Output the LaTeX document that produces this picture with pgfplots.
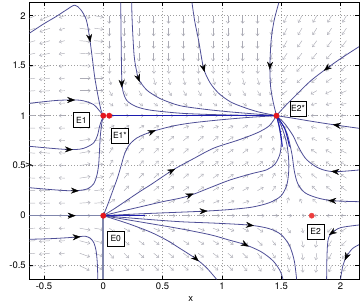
\documentclass[border=0pt]{standalone}
\usepackage{fontspec}
\setmainfont{TeX Gyre Heros}
\usepackage{pgfplots}
\usepackage{pgfplotstable}
\pgfplotsset{compat=1.18}
\usetikzlibrary{arrows.meta}

\definecolor{traj}{RGB}{78,78,150}
\definecolor{trajdark}{RGB}{28,28,175}
\definecolor{trajpale}{RGB}{128,134,172}
\definecolor{field}{RGB}{172,172,182}
\definecolor{eqred}{RGB}{228,22,30}
\definecolor{eqlight}{RGB}{236,62,62}

% direction field: grid point, screen angle (deg), arrow length (pt)
\pgfplotstableread[row sep=\\]{
x y a l\\
-0.575 2 205 11\\ -0.45 2 205 11\\ -0.325 2 200 6\\ -0.2 2 350 11\\ -0.075 2 350 9\\ 0.05 2 270 8\\ 0.175 2 270 8\\ 0.3 2 270 8\\ 0.425 2 270 8\\ 0.55 2 270 8\\ 0.675 2 270 8\\ 0.8 2 270 8\\ 0.925 2 270 8\\ 1.05 2 270 8\\ 1.175 2 270 8\\ 1.3 2 270 8\\ 1.425 2 260 7\\ 1.55 2 245 8\\ 1.675 2 242 8\\ 1.8 2 240 8\\ 1.925 2 240 8\\ 2.05 2 240 8\\
-0.575 1.875 200 11\\ -0.45 1.875 200 11\\ -0.325 1.875 198 6\\ -0.2 1.875 352 11\\ -0.075 1.875 352 9\\ 0.05 1.875 270 8\\ 0.175 1.875 270 8\\ 0.3 1.875 270 8\\ 0.425 1.875 270 8\\ 0.55 1.875 270 8\\ 0.675 1.875 270 8\\ 0.8 1.875 270 8\\ 0.925 1.875 270 8\\ 1.05 1.875 270 8\\ 1.175 1.875 270 8\\ 1.3 1.875 270 8\\ 1.425 1.875 260 7\\ 1.55 1.875 243 8\\ 1.675 1.875 240 8\\ 1.8 1.875 238 8\\ 1.925 1.875 237 8\\ 2.05 1.875 236 8\\
-0.575 1.75 197 11\\ -0.45 1.75 197 11\\ -0.325 1.75 195 6\\ -0.2 1.75 355 11\\ -0.075 1.75 355 9\\ 0.05 1.75 270 8\\ 0.175 1.75 270 8\\ 0.3 1.75 270 8\\ 0.425 1.75 270 8\\ 0.55 1.75 270 8\\ 0.675 1.75 270 8\\ 0.8 1.75 270 8\\ 0.925 1.75 270 8\\ 1.05 1.75 270 8\\ 1.175 1.75 270 8\\ 1.3 1.75 270 8\\ 1.425 1.75 258 7\\ 1.55 1.75 240 8\\ 1.675 1.75 236 8\\ 1.8 1.75 234 8\\ 1.925 1.75 233 8\\ 2.05 1.75 232 8\\
-0.575 1.625 193 11\\ -0.45 1.625 193 11\\ -0.325 1.625 190 6\\ -0.2 1.625 357 11\\ -0.075 1.625 357 9\\ 0.05 1.625 270 8\\ 0.175 1.625 270 8\\ 0.3 1.625 270 8\\ 0.425 1.625 270 8\\ 0.55 1.625 270 8\\ 0.675 1.625 270 8\\ 0.8 1.625 270 8\\ 0.925 1.625 270 8\\ 1.05 1.625 270 8\\ 1.175 1.625 270 8\\ 1.3 1.625 270 8\\ 1.425 1.625 255 7\\ 1.55 1.625 236 8\\ 1.675 1.625 232 8\\ 1.8 1.625 230 8\\ 1.925 1.625 229 8\\ 2.05 1.625 228 8\\
-0.575 1.5 190 11\\ -0.45 1.5 190 11\\ -0.325 1.5 188 6\\ -0.2 1.5 358 11\\ -0.075 1.5 358 9\\ 0.05 1.5 272 8\\ 0.175 1.5 272 8\\ 0.3 1.5 272 8\\ 0.425 1.5 272 8\\ 0.55 1.5 272 8\\ 0.675 1.5 272 8\\ 0.8 1.5 272 8\\ 0.925 1.5 272 8\\ 1.05 1.5 272 8\\ 1.175 1.5 272 8\\ 1.3 1.5 272 8\\ 1.425 1.5 252 7\\ 1.55 1.5 232 8\\ 1.675 1.5 228 8\\ 1.8 1.5 226 8\\ 1.925 1.5 225 8\\ 2.05 1.5 224 8\\
-0.575 1.375 187 11\\ -0.45 1.375 187 11\\ -0.325 1.375 185 6\\ -0.2 1.375 0 11\\ -0.075 1.375 0 9\\ 0.05 1.375 285 7\\ 0.175 1.375 285 7\\ 0.3 1.375 285 7\\ 0.425 1.375 285 7\\ 0.55 1.375 285 7\\ 0.675 1.375 285 7\\ 0.8 1.375 285 7\\ 0.925 1.375 285 7\\ 1.05 1.375 285 7\\ 1.175 1.375 285 7\\ 1.3 1.375 285 7\\ 1.425 1.375 248 6\\ 1.55 1.375 226 7\\ 1.675 1.375 222 7\\ 1.8 1.375 220 7\\ 1.925 1.375 218 7\\ 2.05 1.375 216 7\\
-0.575 1.25 184 11\\ -0.45 1.25 184 11\\ -0.325 1.25 183 6\\ -0.2 1.25 0 11\\ -0.075 1.25 0 9\\ 0.05 1.25 300 6\\ 0.175 1.25 300 6\\ 0.3 1.25 300 6\\ 0.425 1.25 300 6\\ 0.55 1.25 300 6\\ 0.675 1.25 300 6\\ 0.8 1.25 300 6\\ 0.925 1.25 300 6\\ 1.05 1.25 300 6\\ 1.175 1.25 300 6\\ 1.3 1.25 300 6\\ 1.425 1.25 240 5\\ 1.55 1.25 218 7\\ 1.675 1.25 212 7\\ 1.8 1.25 210 7\\ 1.925 1.25 208 7\\ 2.05 1.25 206 7\\
-0.575 1.125 182 11\\ -0.45 1.125 182 11\\ -0.325 1.125 181 6\\ -0.2 1.125 2 11\\ -0.075 1.125 2 9\\ 0.05 1.125 325 5\\ 0.175 1.125 325 5\\ 0.3 1.125 325 5\\ 0.425 1.125 325 5\\ 0.55 1.125 325 5\\ 0.675 1.125 325 5\\ 0.8 1.125 325 5\\ 0.925 1.125 325 5\\ 1.05 1.125 325 5\\ 1.175 1.125 325 5\\ 1.3 1.125 325 5\\ 1.425 1.125 225 4\\ 1.55 1.125 205 5\\ 1.675 1.125 200 5\\ 1.8 1.125 198 6\\ 1.925 1.125 196 6\\ 2.05 1.125 195 6\\
-0.575 1 180 11\\ -0.45 1 180 11\\ -0.325 1 180 6\\ -0.2 1 3 11\\ -0.075 1 3 9\\ 0.05 1 0 5\\ 0.175 1 0 5\\ 0.3 1 0 5\\ 0.425 1 0 5\\ 0.55 1 0 5\\ 0.675 1 0 5\\ 0.8 1 0 5\\ 0.925 1 0 5\\ 1.05 1 0 5\\ 1.175 1 0 5\\ 1.3 1 0 4\\ 1.425 1 180 3\\ 1.55 1 182 4\\ 1.675 1 181 5\\ 1.8 1 180 6\\ 1.925 1 180 6\\ 2.05 1 180 6\\
-0.575 0.875 178 11\\ -0.45 0.875 178 11\\ -0.325 0.875 178 6\\ -0.2 0.875 6 11\\ -0.075 0.875 6 9\\ 0.05 0.875 30 6\\ 0.175 0.875 28 6\\ 0.3 0.875 26 6\\ 0.425 0.875 25 6\\ 0.55 0.875 24 6\\ 0.675 0.875 22 6\\ 0.8 0.875 20 6\\ 0.925 0.875 20 6\\ 1.05 0.875 22 6\\ 1.175 0.875 30 6\\ 1.3 0.875 45 6\\ 1.425 0.875 100 4\\ 1.55 0.875 150 4\\ 1.675 0.875 160 5\\ 1.8 0.875 165 6\\ 1.925 0.875 168 6\\ 2.05 0.875 170 6\\
-0.575 0.75 177 11\\ -0.45 0.75 177 11\\ -0.325 0.75 176 6\\ -0.2 0.75 8 11\\ -0.075 0.75 8 9\\ 0.05 0.75 55 7\\ 0.175 0.75 50 7\\ 0.3 0.75 45 7\\ 0.425 0.75 42 7\\ 0.55 0.75 40 7\\ 0.675 0.75 40 7\\ 0.8 0.75 40 7\\ 0.925 0.75 38 7\\ 1.05 0.75 36 7\\ 1.175 0.75 40 7\\ 1.3 0.75 50 7\\ 1.425 0.75 80 5\\ 1.55 0.75 130 6\\ 1.675 0.75 145 6\\ 1.8 0.75 152 6\\ 1.925 0.75 155 6\\ 2.05 0.75 158 6\\
-0.575 0.625 176 11\\ -0.45 0.625 176 11\\ -0.325 0.625 175 6\\ -0.2 0.625 10 11\\ -0.075 0.625 10 9\\ 0.05 0.625 58 7\\ 0.175 0.625 52 7\\ 0.3 0.625 48 7\\ 0.425 0.625 45 7\\ 0.55 0.625 43 7\\ 0.675 0.625 42 7\\ 0.8 0.625 40 7\\ 0.925 0.625 38 7\\ 1.05 0.625 36 7\\ 1.175 0.625 38 7\\ 1.3 0.625 45 7\\ 1.425 0.625 75 6\\ 1.55 0.625 120 7\\ 1.675 0.625 138 7\\ 1.8 0.625 146 7\\ 1.925 0.625 150 7\\ 2.05 0.625 152 7\\
-0.575 0.5 176 11\\ -0.45 0.5 176 11\\ -0.325 0.5 175 6\\ -0.2 0.5 10 11\\ -0.075 0.5 10 9\\ 0.05 0.5 58 7\\ 0.175 0.5 52 7\\ 0.3 0.5 48 7\\ 0.425 0.5 45 7\\ 0.55 0.5 44 7\\ 0.675 0.5 42 7\\ 0.8 0.5 40 7\\ 0.925 0.5 38 7\\ 1.05 0.5 36 7\\ 1.175 0.5 35 7\\ 1.3 0.5 38 7\\ 1.425 0.5 70 6\\ 1.55 0.5 112 7\\ 1.675 0.5 134 7\\ 1.8 0.5 142 7\\ 1.925 0.5 145 7\\ 2.05 0.5 147 7\\
-0.575 0.375 177 11\\ -0.45 0.375 177 11\\ -0.325 0.375 176 6\\ -0.2 0.375 9 11\\ -0.075 0.375 9 9\\ 0.05 0.375 55 7\\ 0.175 0.375 50 7\\ 0.3 0.375 46 7\\ 0.425 0.375 43 7\\ 0.55 0.375 42 7\\ 0.675 0.375 40 7\\ 0.8 0.375 38 7\\ 0.925 0.375 36 7\\ 1.05 0.375 34 7\\ 1.175 0.375 32 7\\ 1.3 0.375 35 7\\ 1.425 0.375 62 6\\ 1.55 0.375 105 7\\ 1.675 0.375 130 7\\ 1.8 0.375 140 7\\ 1.925 0.375 143 7\\ 2.05 0.375 145 7\\
-0.575 0.25 178 11\\ -0.45 0.25 178 11\\ -0.325 0.25 178 6\\ -0.2 0.25 7 11\\ -0.075 0.25 7 9\\ 0.05 0.25 50 7\\ 0.175 0.25 45 7\\ 0.3 0.25 42 7\\ 0.425 0.25 40 7\\ 0.55 0.25 38 7\\ 0.675 0.25 36 7\\ 0.8 0.25 34 7\\ 0.925 0.25 32 7\\ 1.05 0.25 30 7\\ 1.175 0.25 28 7\\ 1.3 0.25 30 7\\ 1.425 0.25 52 6\\ 1.55 0.25 98 7\\ 1.675 0.25 125 7\\ 1.8 0.25 136 7\\ 1.925 0.25 140 7\\ 2.05 0.25 143 7\\
-0.575 0.125 179 11\\ -0.45 0.125 179 11\\ -0.325 0.125 179 6\\ -0.2 0.125 4 11\\ -0.075 0.125 4 9\\ 0.05 0.125 35 7\\ 0.175 0.125 30 7\\ 0.3 0.125 28 7\\ 0.425 0.125 27 7\\ 0.55 0.125 26 7\\ 0.675 0.125 25 7\\ 0.8 0.125 24 7\\ 0.925 0.125 22 7\\ 1.05 0.125 20 7\\ 1.175 0.125 18 7\\ 1.3 0.125 20 7\\ 1.425 0.125 35 6\\ 1.55 0.125 75 6\\ 1.675 0.125 115 5\\ 1.8 0.125 135 6\\ 1.925 0.125 145 7\\ 2.05 0.125 150 7\\
-0.575 0 180 11\\ -0.45 0 180 11\\ -0.325 0 180 6\\ -0.2 0 0 11\\ -0.075 0 0 9\\ 0.05 0 0 7\\ 0.175 0 0 7\\ 0.3 0 0 7\\ 0.425 0 0 7\\ 0.55 0 0 7\\ 0.675 0 0 7\\ 0.8 0 0 7\\ 0.925 0 0 7\\ 1.05 0 0 7\\ 1.175 0 0 7\\ 1.3 0 0 7\\ 1.425 0 0 6\\ 1.55 0 0 5\\ 1.675 0 0 3\\ 1.8 0 180 3\\ 1.925 0 180 5\\ 2.05 0 180 6\\
-0.575 -0.125 182 11\\ -0.45 -0.125 182 11\\ -0.325 -0.125 182 6\\ -0.2 -0.125 350 11\\ -0.075 -0.125 350 9\\ 0.05 -0.125 325 7\\ 0.175 -0.125 330 7\\ 0.3 -0.125 333 7\\ 0.425 -0.125 335 7\\ 0.55 -0.125 336 7\\ 0.675 -0.125 337 7\\ 0.8 -0.125 338 7\\ 0.925 -0.125 338 7\\ 1.05 -0.125 336 7\\ 1.175 -0.125 332 7\\ 1.3 -0.125 325 7\\ 1.425 -0.125 318 6\\ 1.55 -0.125 305 6\\ 1.675 -0.125 285 5\\ 1.8 -0.125 255 5\\ 1.925 -0.125 225 6\\ 2.05 -0.125 212 7\\
-0.575 -0.25 184 11\\ -0.45 -0.25 184 11\\ -0.325 -0.25 184 6\\ -0.2 -0.25 345 11\\ -0.075 -0.25 345 9\\ 0.05 -0.25 315 7\\ 0.175 -0.25 320 7\\ 0.3 -0.25 322 7\\ 0.425 -0.25 325 7\\ 0.55 -0.25 326 7\\ 0.675 -0.25 327 7\\ 0.8 -0.25 328 7\\ 0.925 -0.25 328 7\\ 1.05 -0.25 325 7\\ 1.175 -0.25 320 7\\ 1.3 -0.25 315 7\\ 1.425 -0.25 308 6\\ 1.55 -0.25 298 7\\ 1.675 -0.25 282 7\\ 1.8 -0.25 260 7\\ 1.925 -0.25 238 7\\ 2.05 -0.25 225 7\\
-0.575 -0.375 186 11\\ -0.45 -0.375 186 11\\ -0.325 -0.375 186 6\\ -0.2 -0.375 340 11\\ -0.075 -0.375 340 9\\ 0.05 -0.375 310 7\\ 0.175 -0.375 315 7\\ 0.3 -0.375 318 7\\ 0.425 -0.375 320 7\\ 0.55 -0.375 321 7\\ 0.675 -0.375 322 7\\ 0.8 -0.375 322 7\\ 0.925 -0.375 322 7\\ 1.05 -0.375 320 7\\ 1.175 -0.375 315 7\\ 1.3 -0.375 308 7\\ 1.425 -0.375 300 6\\ 1.55 -0.375 292 7\\ 1.675 -0.375 280 7\\ 1.8 -0.375 262 7\\ 1.925 -0.375 243 7\\ 2.05 -0.375 232 7\\
-0.575 -0.5 188 11\\ -0.45 -0.5 188 11\\ -0.325 -0.5 188 6\\ -0.2 -0.5 335 11\\ -0.075 -0.5 335 9\\ 0.05 -0.5 305 7\\ 0.175 -0.5 310 7\\ 0.3 -0.5 313 7\\ 0.425 -0.5 315 7\\ 0.55 -0.5 316 7\\ 0.675 -0.5 317 7\\ 0.8 -0.5 318 7\\ 0.925 -0.5 318 7\\ 1.05 -0.5 316 7\\ 1.175 -0.5 310 7\\ 1.3 -0.5 303 7\\ 1.425 -0.5 295 6\\ 1.55 -0.5 290 7\\ 1.675 -0.5 278 7\\ 1.8 -0.5 262 7\\ 1.925 -0.5 246 7\\ 2.05 -0.5 238 7\\
}\field

% direction arrowheads on the trajectories: tail point and screen angle
\pgfplotstableread[row sep=\\]{
x y a\\
-0.12 1.814 279\\ -0.304 1.157 0\\ -0.324 0.663 358\\ -0.273 0.251 358\\ -0.3 0 0\\ -0.258 -0.216 4\\
0.154 1.36 272\\ 0.284 1.412 290\\ 0.379 0.825 22\\ 0.547 0.431 28\\ 0.837 1.513 285\\ 1.406 1.54 268\\
1.913 1.499 218\\ 2.001 0.899 171\\ 1.988 0.437 175\\ 1.964 0.148 177\\ 0.699 0.192 22\\ 0.812 0.044 2\\
1.203 -0.091 354\\ 1.167 -0.271 332\\ 0.755 -0.403 318\\ 1.958 -0.147 215\\ 2.064 -0.374 245\\
}\heads

\begin{document}
\begin{tikzpicture}
\begin{axis}[
  scale only axis,
  width=329.7pt, height=276.6pt,
  xmin=-0.624, xmax=2.156, ymin=-0.636, ymax=2.13,
  xtick={-0.5,0,0.5,1,1.5,2}, ytick={-0.5,0,0.5,1,1.5,2},
  xticklabels={-0.5,0,0.5,1,1.5,2}, yticklabels={-0.5,0,0.5,1,1.5,2},
  tick align=inside, tick pos=both, major tick length=3.5pt,
  tick style={black, line width=0.5pt},
  axis line style={black, line width=0.6pt},
  grid=major,
  major grid style={gray!75, line width=0.5pt, dash pattern=on 0.8pt off 2.2pt},
  ticklabel style={font=\fontsize{9.5}{10}\selectfont},
  xlabel={x}, ylabel={y},
  label style={font=\fontsize{9.5}{10}\selectfont},
  xlabel style={at={(axis description cs:0.49,0)}, anchor=center, yshift=-19.5pt},
  ylabel style={at={(axis description cs:0,0.5)}, anchor=center, xshift=-24pt},
  clip=true,
]

% direction field
\addplot[field, line width=0.45pt, -{Straight Barb[length=2.2pt,width=3.4pt]},
  quiver={u=\thisrow{l}*cos(\thisrow{a})/118.6, v=\thisrow{l}*sin(\thisrow{a})/100}]
  table[x=x, y=y] {\field};

% pale trajectories along the axes through E0
\addplot[trajpale, line width=1.6pt] coordinates {(-0.624,0) (0,0)};
\addplot[trajpale, line width=1.6pt] coordinates {(-0.004,0) (-0.004,-0.636)};

% trajectories on the left, running into E1
\addplot[traj, line width=0.8pt, smooth] coordinates {(-0.624,1.824) (-0.5,1.92) (-0.4,1.99) (-0.309,2.06) (-0.241,2.105) (-0.19,2.06) (-0.143,1.957) (-0.115,1.774) (-0.09,1.55) (-0.073,1.39) (-0.045,1.2) (-0.02,1.06) (0,1)};
\addplot[traj, line width=0.8pt, smooth] coordinates {(-0.624,1.124) (-0.5,1.14) (-0.4,1.152) (-0.3,1.157) (-0.2,1.155) (-0.14,1.14) (-0.08,1.11) (-0.04,1.06) (0,1)};
\addplot[traj, line width=0.8pt, smooth] coordinates {(-0.624,0.694) (-0.45,0.675) (-0.3,0.662) (-0.2,0.665) (-0.14,0.685) (-0.08,0.73) (-0.05,0.8) (-0.03,0.9) (-0.012,0.96) (0,1)};
\addplot[traj, line width=0.8pt, smooth] coordinates {(-0.624,0.28) (-0.45,0.262) (-0.3,0.25) (-0.2,0.253) (-0.13,0.27) (-0.08,0.32) (-0.055,0.4) (-0.04,0.5) (-0.032,0.65) (-0.025,0.8) (-0.012,0.93) (0,1)};
\addplot[traj, line width=0.8pt, smooth] coordinates {(-0.624,-0.236) (-0.45,-0.23) (-0.3,-0.22) (-0.2,-0.21) (-0.154,-0.205) (-0.11,-0.225) (-0.08,-0.27) (-0.062,-0.343) (-0.052,-0.45) (-0.048,-0.55) (-0.047,-0.636)};

% trajectories from the top, into E2*
\addplot[traj, line width=0.8pt, smooth] coordinates {(0.147,2.13) (0.149,1.9) (0.152,1.6) (0.155,1.4) (0.165,1.25) (0.2,1.15) (0.28,1.09) (0.4,1.055) (0.647,1.025) (0.9,1.012) (1.2,1.004) (1.46,1)};
\addplot[traj, line width=0.8pt, smooth] coordinates {(0.239,2.13) (0.245,1.9) (0.26,1.6) (0.28,1.45) (0.3,1.36) (0.366,1.257) (0.45,1.19) (0.506,1.157) (0.647,1.1) (0.85,1.065) (1.05,1.04) (1.25,1.02) (1.46,1)};
\addplot[traj, line width=0.8pt, smooth] coordinates {(0.748,2.13) (0.77,1.95) (0.804,1.75) (0.846,1.474) (0.9,1.33) (0.973,1.224) (1.07,1.14) (1.17,1.09) (1.3,1.04) (1.46,1)};
\addplot[traj, line width=0.8pt, smooth] coordinates {(1.48,2.13) (1.44,1.95) (1.415,1.75) (1.405,1.5) (1.41,1.3) (1.43,1.15) (1.46,1)};
\addplot[traj, line width=0.8pt, smooth] coordinates {(2.156,1.69) (2.0,1.57) (1.886,1.474) (1.75,1.35) (1.62,1.2) (1.52,1.08) (1.46,1)};

% trajectories from the right
\addplot[traj, line width=0.8pt, smooth] coordinates {(2.156,0.874) (1.968,0.905) (1.75,0.945) (1.6,0.975) (1.46,1)};
\addplot[traj, line width=0.8pt, smooth] coordinates {(2.156,0.457) (1.954,0.44) (1.85,0.46) (1.77,0.507) (1.7,0.58) (1.64,0.7) (1.6,0.8) (1.53,0.92) (1.46,1)};
\addplot[traj, line width=0.8pt, smooth] coordinates {(2.156,0.14) (1.93,0.15) (1.8,0.18) (1.7,0.23) (1.64,0.32) (1.61,0.45) (1.59,0.62) (1.55,0.82) (1.5,0.93) (1.46,1)};
\addplot[traj, line width=0.8pt, smooth] coordinates {(2.156,-0.093) (2.0,-0.12) (1.93,-0.17) (1.9,-0.22) (1.89,-0.3) (1.885,-0.45) (1.883,-0.636)};
\addplot[traj, line width=0.8pt, smooth] coordinates {(2.156,-0.29) (2.1,-0.33) (2.05,-0.41) (2.02,-0.5) (2.0,-0.636)};

% fan of trajectories leaving E0
\addplot[traj, line width=0.8pt, smooth] coordinates {(0,0) (0.04,0.12) (0.08,0.25) (0.12,0.38) (0.15,0.5) (0.18,0.62) (0.22,0.71) (0.28,0.775) (0.35,0.815) (0.45,0.855) (0.6,0.9) (0.76,0.93) (1.0,0.96) (1.25,0.985) (1.46,1)};
\addplot[traj, line width=0.8pt, smooth] coordinates {(0,0) (0.1,0.075) (0.2,0.155) (0.3,0.235) (0.4,0.31) (0.5,0.39) (0.577,0.45) (0.65,0.5) (0.76,0.57) (0.93,0.675) (1.14,0.757) (1.3,0.83) (1.4,0.9) (1.46,1)};
\addplot[traj, line width=0.8pt, smooth] coordinates {(0,0) (0.1,0.03) (0.3,0.085) (0.5,0.14) (0.647,0.175) (0.75,0.21) (0.9,0.28) (1.068,0.357) (1.25,0.42) (1.38,0.46) (1.45,0.52) (1.49,0.62) (1.5,0.75) (1.48,0.9) (1.46,1)};
\addplot[traj, line width=0.8pt, smooth] coordinates {(0,0) (0.3,0.018) (0.647,0.035) (0.846,0.045) (1.05,0.06) (1.25,0.085) (1.4,0.13) (1.5,0.2) (1.55,0.32) (1.565,0.5) (1.55,0.7) (1.51,0.87) (1.46,1)};
\addplot[traj, line width=0.8pt, smooth] coordinates {(0,0) (0.3,-0.03) (0.647,-0.06) (0.95,-0.075) (1.237,-0.095) (1.4,-0.13) (1.5,-0.19) (1.57,-0.3) (1.61,-0.45) (1.63,-0.636)};
\addplot[traj, line width=0.8pt, smooth] coordinates {(0,0) (0.2,-0.04) (0.4,-0.08) (0.647,-0.13) (0.9,-0.19) (1.05,-0.24) (1.197,-0.29) (1.33,-0.36) (1.43,-0.45) (1.49,-0.55) (1.515,-0.636)};
\addplot[traj, line width=0.8pt, smooth] coordinates {(0,0) (0.2,-0.075) (0.4,-0.165) (0.535,-0.245) (0.65,-0.33) (0.78,-0.43) (0.87,-0.52) (0.955,-0.636)};

% connections drawn darker: E1* to E2*, near E0 and below E2*
\addplot[trajdark, line width=1.1pt] coordinates {(0.05,1) (1.46,1)};
\addplot[trajdark, line width=1.1pt] coordinates {(0,0) (0.35,0)};
\addplot[trajdark, line width=1.0pt, smooth] coordinates {(1.46,1) (1.49,0.86) (1.51,0.69)};
\addplot[trajdark, line width=1.0pt, smooth] coordinates {(1.46,1) (1.53,0.87) (1.57,0.69)};

% arrowheads
\addplot[black, line width=0.3pt, -{Stealth[length=8pt,width=6pt]},
  quiver={u=8*cos(\thisrow{a})/118.6, v=8*sin(\thisrow{a})/100}]
  table[x=x, y=y] {\heads};

% equilibria
\addplot[only marks, mark=*, mark size=2.7pt, color=eqred] coordinates {(0,0) (0,1) (0.05,1) (1.46,1)};
\addplot[only marks, mark=*, mark size=2.6pt, color=eqlight] coordinates {(1.757,0)};

% equilibrium labels
\begin{scope}[every node/.style={draw=black, fill=white, line width=0.5pt, inner sep=0pt,
    minimum width=16.5pt, minimum height=15pt, font=\fontsize{8.5}{9}\selectfont}]
\node at (axis cs:-0.185,0.955) {E1};
\node at (axis cs:0.14,0.80) {E1*};
\node at (axis cs:1.642,1.07) {E2*};
\node at (axis cs:0.105,-0.23) {E0};
\node at (axis cs:1.79,-0.16) {E2};
\end{scope}
\end{axis}
\pgfresetboundingbox
\path[use as bounding box] ([xshift=-29.3pt,yshift=-24.7pt]current axis.south west) rectangle ([xshift=1pt,yshift=2.7pt]current axis.north east);
\end{tikzpicture}
\end{document}
